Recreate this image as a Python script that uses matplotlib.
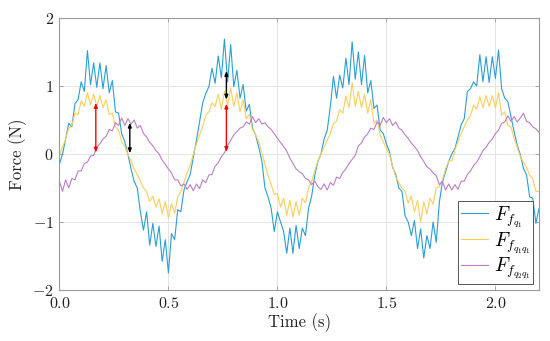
import matplotlib
matplotlib.use('Agg')
import matplotlib.pyplot as plt
import numpy as np

plt.rcParams['font.family'] = 'serif'
plt.rcParams['font.serif'] = ['cmr10']
plt.rcParams['mathtext.fontset'] = 'cm'
plt.rcParams['axes.formatter.use_mathtext'] = True
plt.rcParams['axes.unicode_minus'] = True

f_q1 = [-0.15, 0.00, 0.22, 0.45, 0.40, 0.74, 0.80, 1.06, 0.92, 1.52, 1.02, 1.34, 0.98, 1.34,
        0.96, 1.30, 0.90, 1.08, 0.62, 0.60, 0.30, 0.18, 0.00, -0.22, -0.40, -0.50, -0.85, -1.12,
        -0.85, -1.34, -1.02, -1.36, -1.06, -1.58, -1.26, -1.75, -1.17, -1.26, -0.82, -0.85, -0.53, -0.41,
        -0.30, -0.05, 0.20, 0.47, 0.75, 0.89, 0.99, 1.26, 1.04, 1.44, 1.12, 1.69, 1.06, 1.61,
        0.99, 1.23, 0.82, 1.02, 0.63, 0.73, 0.38, 0.28, 0.10, -0.10, -0.50, -0.63, -0.80, -1.14,
        -0.85, -1.00, -1.14, -1.46, -1.09, -1.46, -1.05, -1.39, -1.09, -1.20, -0.80, -0.62, -0.31, -0.11,
        0.00, 0.22, 0.35, 0.70, 1.14, 0.82, 1.16, 0.97, 1.41, 1.02, 1.65, 1.10, 1.50, 1.02,
        1.45, 0.90, 1.08, 0.67, 0.72, 0.35, 0.30, 0.15, 0.03, -0.20, -0.30, -0.50, -0.55, -0.91,
        -1.00, -1.20, -0.98, -1.39, -1.10, -1.53, -1.20, -1.39, -1.00, -1.30, -0.71, -0.41, -0.26, -0.11,
        0.00, 0.08, 0.25, 0.43, 0.52, 0.92, 0.96, 1.06, 1.00, 1.46, 1.06, 1.43, 1.05, 1.43,
        1.11, 1.53, 0.96, 0.82, 0.77, 0.55, 0.33, 0.13, -0.01, -0.21, -0.31, -0.63, -0.65, -1.02,
        -0.80]

f_q1q1 = [-0.02, 0.10, 0.22, 0.38, 0.42, 0.60, 0.58, 0.78, 0.70, 0.90, 0.72, 0.88, 0.70, 0.86,
          0.68, 0.80, 0.58, 0.60, 0.40, 0.35, 0.18, 0.11, 0.00, -0.10, -0.22, -0.30, -0.40, -0.50,
          -0.55, -0.70, -0.62, -0.78, -0.66, -0.88, -0.70, -0.94, -0.73, -0.87, -0.63, -0.55, -0.42, -0.28,
          -0.16, 0.00, 0.15, 0.28, 0.40, 0.57, 0.62, 0.75, 0.70, 0.88, 0.66, 0.92, 0.72, 0.97,
          0.70, 0.90, 0.62, 0.80, 0.52, 0.58, 0.36, 0.28, 0.18, 0.02, -0.15, -0.32, -0.45, -0.60,
          -0.58, -0.78, -0.65, -0.90, -0.68, -0.93, -0.70, -0.90, -0.65, -0.72, -0.50, -0.40, -0.25, -0.10,
          0.00, 0.10, 0.20, 0.30, 0.45, 0.48, 0.65, 0.60, 0.85, 0.68, 1.05, 0.70, 0.92, 0.68,
          0.88, 0.60, 0.80, 0.45, 0.50, 0.28, 0.18, 0.08, -0.01, -0.18, -0.34, -0.42, -0.50, -0.55,
          -0.72, -0.62, -0.85, -0.68, -1.00, -0.70, -0.88, -0.65, -0.74, -0.50, -0.48, -0.38, -0.22, -0.10,
          -0.10, 0.06, 0.18, 0.30, 0.40, 0.50, 0.56, 0.72, 0.66, 0.84, 0.68, 0.86, 0.70, 0.86,
          0.68, 0.90, 0.57, 0.62, 0.42, 0.40, 0.23, 0.10, -0.04, -0.12, -0.20, -0.31, -0.36, -0.55,
          -0.55]

f_q2q1 = [-0.40, -0.55, -0.38, -0.50, -0.36, -0.38, -0.25, -0.25, -0.14, -0.12, -0.03, -0.02, 0.10, 0.15,
          0.22, 0.26, 0.36, 0.34, 0.46, 0.42, 0.53, 0.42, 0.52, 0.44, 0.50, 0.38, 0.42, 0.30,
          0.25, 0.17, 0.12, 0.05, 0.00, -0.09, -0.15, -0.22, -0.28, -0.38, -0.38, -0.47, -0.44, -0.52,
          -0.45, -0.54, -0.44, -0.51, -0.38, -0.42, -0.31, -0.30, -0.18, -0.13, -0.04, 0.02, 0.12, 0.20,
          0.28, 0.33, 0.38, 0.40, 0.47, 0.44, 0.55, 0.46, 0.52, 0.44, 0.46, 0.40, 0.36, 0.30,
          0.23, 0.17, 0.11, 0.04, -0.06, -0.14, -0.22, -0.26, -0.29, -0.36, -0.38, -0.45, -0.40, -0.48,
          -0.52, -0.44, -0.53, -0.42, -0.46, -0.34, -0.36, -0.27, -0.22, -0.14, -0.08, -0.02, 0.12, 0.16,
          0.25, 0.30, 0.38, 0.36, 0.47, 0.42, 0.54, 0.46, 0.52, 0.42, 0.47, 0.38, 0.35, 0.28,
          0.23, 0.16, 0.11, 0.05, -0.04, -0.11, -0.19, -0.22, -0.28, -0.32, -0.45, -0.40, -0.53, -0.44,
          -0.53, -0.45, -0.52, -0.40, -0.40, -0.30, -0.25, -0.17, -0.12, -0.04, 0.05, 0.10, 0.17, 0.22,
          0.30, 0.35, 0.45, 0.47, 0.56, 0.48, 0.55, 0.47, 0.53, 0.60, 0.48, 0.46, 0.40, 0.37,
          0.32]

t = np.linspace(0, 2.2, len(f_q1))

# arrows: (time, start value, end value, colour)
arrows = [(0.167, 0.02, 0.75, 'red'),
          (0.323, 0.01, 0.46, 'black'),
          (0.766, 0.03, 0.74, 'red'),
          (0.766, 0.80, 1.22, 'black')]

labels = [r'$F_{f_{q_1}}$', r'$F_{f_{q_1 q_1}}$', r'$F_{f_{q_2 q_1}}$']
colores = ['#2A9FD8', '#FDCF5A', '#BD7FC7']

fig = plt.figure(figsize=(5.5, 3.41), dpi=100)
ax = fig.add_axes([0.108, 0.1496, 0.872, 0.7977])

for serie, lab, col in zip([f_q1, f_q1q1, f_q2q1], labels, colores):
    ax.plot(t, serie, color=col, lw=0.8, label=lab)

for x, y0, y1, col in arrows:
    ax.annotate('', xy=(x, y1), xytext=(x, y0),
                arrowprops=dict(arrowstyle='<|-|>,head_length=0.25,head_width=0.1',
                                color=col, lw=1.0, shrinkA=0, shrinkB=0))

ax.set_xlim(0, 2.2)
ax.set_ylim(-2, 2)
ax.set_xticks([0, 0.5, 1, 1.5, 2])
ax.set_yticks([-2, -1, 0, 1, 2])
ax.grid(True, color='#e4e4e4', lw=0.7)
ax.set_axisbelow(True)
for sp in ax.spines.values():
    sp.set_color('#9a9a9a')
    sp.set_linewidth(0.8)
ax.tick_params(direction='in', top=True, right=True, length=3, width=0.6,
               color='#9a9a9a', labelcolor='#222222', labelsize=11.5, pad=4)
ax.set_xlabel('Time (s)', fontsize=12, color='#222222', labelpad=2)
ax.set_ylabel('Force (N)', fontsize=12, color='#222222', labelpad=4)

leg = ax.legend(loc='lower right', fontsize=14, fancybox=False, framealpha=1,
                edgecolor='#555555', handlelength=1.4, handletextpad=0.3,
                borderpad=0.15, labelspacing=0.0, borderaxespad=0.3)
leg.get_frame().set_linewidth(0.7)

fig.savefig('out.png', dpi=100)
